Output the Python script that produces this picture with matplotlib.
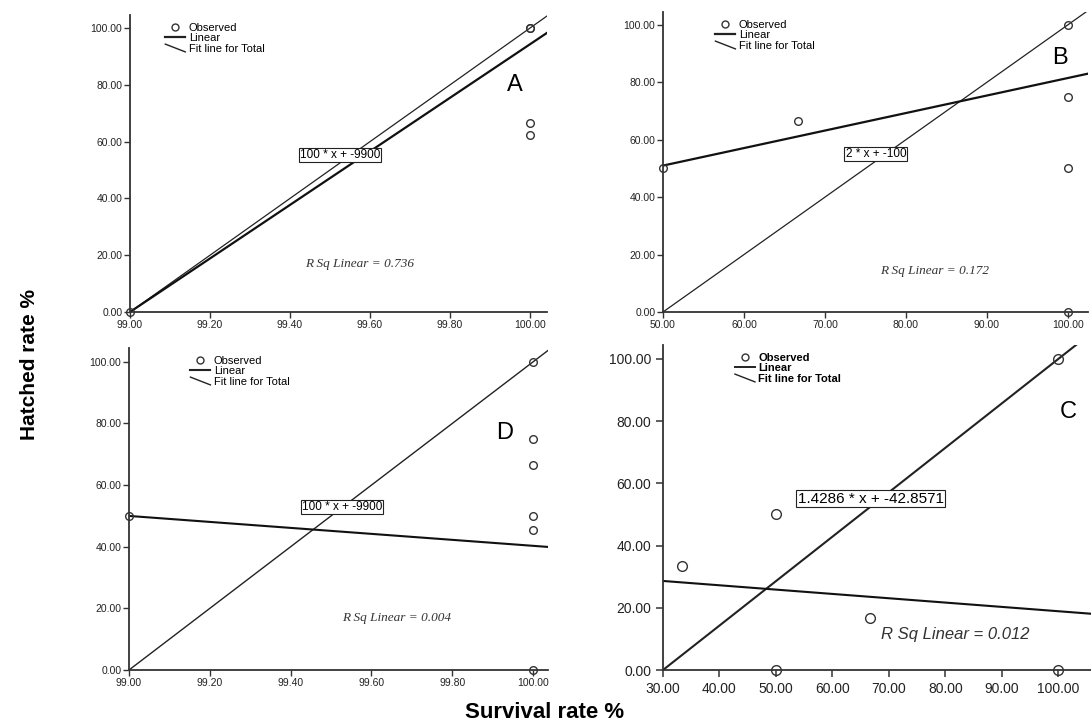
import matplotlib.pyplot as plt
from matplotlib.lines import Line2D
from matplotlib.legend_handler import HandlerBase

# --- data ---
# panel A
xA = [99.0, 100.0, 100.0, 100.0, 100.0]
yA = [0.0, 100.0, 100.0, 66.67, 62.5]
refA = (100.0, -9900.0)       # slope, intercept
fitA = (94.3, -9335.7)
# panel B
xB = [50.0, 66.67, 100.0, 100.0, 100.0, 100.0]
yB = [50.0, 66.67, 100.0, 75.0, 50.0, 0.0]
refB = (2.0, -100.0)
fitB = (0.61, 20.5)
# panel D
xD = [99.0, 100.0, 100.0, 100.0, 100.0, 100.0, 100.0]
yD = [50.0, 100.0, 75.0, 66.67, 50.0, 45.45, 0.0]
refD = (100.0, -9900.0)
fitD = (-9.7, 1010.3)
# panel C
xC = [33.33, 50.0, 50.0, 66.67, 100.0, 100.0]
yC = [33.33, 50.0, 0.0, 16.67, 100.0, 0.0]
refC = (1.4286, -42.8571)
fitC = (-0.139, 32.8)

eqA, eqB, eqD, eqC = "100 * x + -9900", "2 * x + -100", "100 * x + -9900", "1.4286 * x + -42.8571"
rsqA, rsqB, rsqD, rsqC = "0.736", "0.172", "0.004", "0.012"

ticksA = [99.0, 99.2, 99.4, 99.6, 99.8, 100.0]
ticksB = [50, 60, 70, 80, 90, 100]
ticksC = [30, 40, 50, 60, 70, 80, 90, 100]
yticks = [0, 20, 40, 60, 80, 100]


class SlantHandler(HandlerBase):
    def create_artists(self, legend, orig_handle, xdescent, ydescent,
                       width, height, fontsize, trans):
        ln = Line2D([-xdescent, -xdescent + width], [height, 0], color='#222',
                    lw=orig_handle.get_linewidth(), transform=trans)
        return [ln]


fig = plt.figure(figsize=(10.91, 7.28), dpi=100)
W, H = 1091, 728


def make_ax(l, r, t, b):
    return fig.add_axes([l / W, 1 - b / H, (r - l) / W, (b - t) / H])


def panel(ax, x, y, ref, fit, xlim, ylim, xt, eq, eqpos, rsq, rsqpos, letter, letpos,
          legx, big=False, reflw=0.9, fitlw=1.6):
    ms = 7 if big else 5.5
    ax.plot(x, y, 'o', mfc='none', mec='#333', ms=ms, mew=1.0, clip_on=False, zorder=5)
    ax.axline((0, ref[1]), slope=ref[0], color='#222', lw=reflw)
    ax.axline((0, fit[1]), slope=fit[0], color='#111', lw=fitlw)
    ax.set_xlim(*xlim)
    ax.set_ylim(*ylim)
    ax.set_xticks(xt)
    ax.set_yticks(yticks)
    ax.xaxis.set_major_formatter('{x:.2f}')
    ax.yaxis.set_major_formatter('{x:.2f}')
    for s in ['top', 'right']:
        ax.spines[s].set_visible(False)
    for s in ['left', 'bottom']:
        ax.spines[s].set_color('#333')
        ax.spines[s].set_linewidth(1.3)
    if big:
        ax.tick_params(labelsize=10, length=5, width=1.1, color='#333', labelcolor='#222')
        eqfs, rfs = 11, 12
        rfont = dict(family='Liberation Sans', style='italic')
        legfs = 8
    else:
        ax.tick_params(labelsize=7.5, length=4, width=1.0, color='#333', labelcolor='#222',
                       pad=1.5)
        eqfs, rfs = 8.5, 9.5
        rfont = dict(family='Liberation Serif', style='italic')
        legfs = 8
    for lb in ax.get_xticklabels() + ax.get_yticklabels():
        lb.set_family('Liberation Sans')
    ax.text(*eqpos, eq, fontsize=eqfs, family='Liberation Sans', ha='center', va='center',
            bbox=dict(boxstyle='square,pad=0.1', fc='white', ec='#222', lw=0.8), zorder=6)
    ax.text(*rsqpos, 'R Sq Linear = ' + rsq, fontsize=rfs, ha='center', va='center',
            color='#333', **rfont)
    ax.text(*letpos, letter, fontsize=17, family='Liberation Sans', ha='center', va='center')
    h1 = Line2D([], [], marker='o', ls='none', mfc='none', mec='#333', ms=5)
    h2 = Line2D([], [], color='#222', lw=fitlw if not big else 1.4)
    h3 = Line2D([], [], color='#222', lw=1.0)
    ax.legend([h1, h2, h3], ['Observed', 'Linear', 'Fit line for Total'],
              handler_map={h3: SlantHandler()}, loc='upper left',
              bbox_to_anchor=(legx, 1.0), frameon=False,
              handlelength=1.8, handletextpad=0.3, labelspacing=0.05, borderpad=0.2,
              prop=dict(family='Liberation Sans', size=legfs, weight='bold' if big else 'normal'))


axA = make_ax(130, 547, 15, 312)
panel(axA, xA, yA, refA, fitA, (99.0, 100.0425), (0, 104.6), ticksA, eqA, (99.525, 55.3),
      rsqA, (99.575, 16.9), 'A', (99.962, 80), 0.066)
axB = make_ax(663, 1088, 12, 312)
panel(axB, xB, yB, refB, fitB, (50, 102.5), (0, 104.5), ticksB, eqB, (76.3, 55),
      rsqB, (83.6, 14.3), 'B', (99.0, 88.5), 0.105)
axD = make_ax(129, 548, 348, 670)
panel(axD, xD, yD, refD, fitD, (99.0, 100.037), (0, 104.5), ticksA, eqD, (99.527, 52.9),
      rsqD, (99.663, 16.9), 'D', (99.93, 77), 0.128, reflw=1.0, fitlw=1.5)
axC = make_ax(663, 1091, 345, 670)
panel(axC, xC, yC, refC, fitC, (30, 105.8), (0, 104.5), ticksC, eqC, (66.8, 55),
      rsqC, (81.7, 11.3), 'C', (101.7, 83), 0.15, big=True, reflw=1.5, fitlw=1.5)

fig.text(30 / W, 1 - 365 / H, 'Hatched rate %', rotation=90, ha='center', va='center',
         fontsize=15, fontweight='bold', family='Liberation Sans')
fig.text(545 / W, 1 - 712 / H, 'Survival rate %', ha='center', va='center',
         fontsize=16, fontweight='bold', family='Liberation Sans')

fig.savefig('out.png', dpi=100)
